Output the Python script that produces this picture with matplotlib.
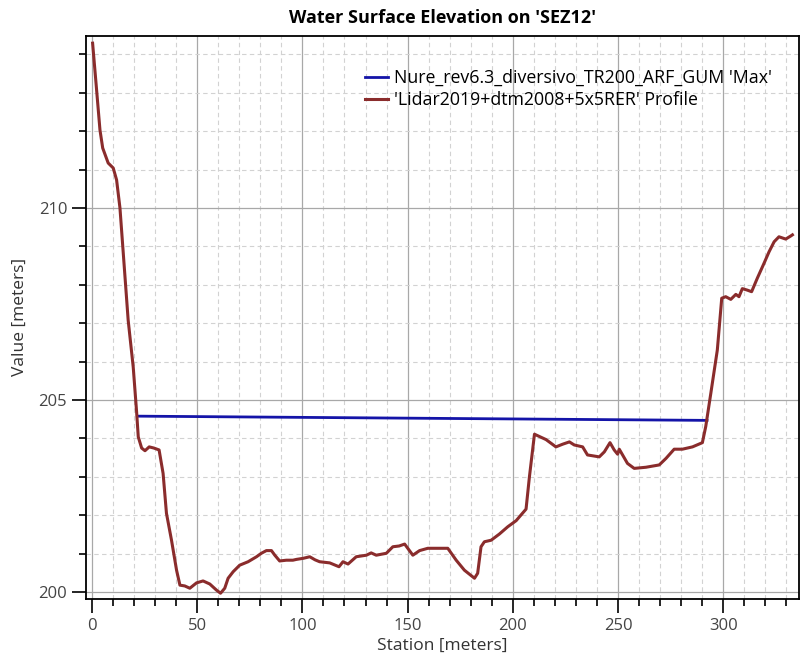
import matplotlib
matplotlib.use('Agg')
import matplotlib.pyplot as plt
from matplotlib.ticker import MultipleLocator

plt.rcParams['font.family'] = ['Open Sans', 'DejaVu Sans']

# Water surface (max)
ws_station = [21.7, 292.3]
ws_value = [204.58, 204.47]

# Ground profile
st = [0.3, 2.0, 3.8, 5.1, 7.7, 10.1, 11.7, 13.3, 17.2, 19.6, 21.2, 22.0, 23.6, 25.2,
      27.2, 29.4, 31.9, 33.8, 35.4, 37.8, 40.2, 41.8, 44.1, 46.5, 49.7, 52.8, 56.0,
      59.2, 61.1, 63.1, 64.7, 67.1, 70.2, 74.2, 78.2, 80.5, 82.9, 85.3, 86.9, 89.2,
      92.4, 95.5, 97.1, 100.5, 103.5, 106.0, 108.2, 113.0, 117.4, 119.3, 121.7,
      125.6, 130.4, 132.7, 135.1, 139.9, 143.0, 146.0, 148.6, 152.5, 155.7, 159.6,
      163.6, 169.1, 173.1, 177.0, 181.8, 183.3, 184.9, 186.5, 189.7, 193.6, 197.6,
      201.6, 206.3, 207.9, 210.3, 215.8, 220.5, 223.7, 226.9, 229.2, 233.2, 235.5,
      241.1, 243.5, 246.2, 248.2, 249.8, 250.6, 254.5, 257.7, 263.3, 269.6, 272.8,
      276.7, 280.6, 285.4, 290.1, 291.7, 294.1, 297.2, 299.3, 301.2, 303.6, 306.0,
      307.5, 309.1, 311.5, 313.5, 316.2, 319.4, 321.8, 324.2, 326.5, 329.7, 332.1,
      332.9]
elev = [214.29, 213.2, 212.03, 211.56, 211.17, 211.04, 210.73, 210.0, 207.08, 205.86,
        204.70, 204.04, 203.75, 203.68, 203.78, 203.75, 203.70, 203.09, 202.05,
        201.35, 200.57, 200.18, 200.16, 200.10, 200.24, 200.29, 200.21, 200.05,
        199.97, 200.10, 200.36, 200.53, 200.70, 200.79, 200.92, 201.01, 201.08,
        201.08, 200.96, 200.81, 200.83, 200.83, 200.85, 200.88, 200.92, 200.84,
        200.79, 200.76, 200.66, 200.79, 200.73, 200.92, 200.96, 201.02, 200.96,
        201.01, 201.18, 201.20, 201.25, 200.96, 201.08, 201.14, 201.14, 201.14,
        200.83, 200.57, 200.36, 200.49, 201.18, 201.31, 201.35, 201.51, 201.70,
        201.86, 202.16, 203.0, 204.11, 203.97, 203.78, 203.85, 203.91, 203.83,
        203.78, 203.57, 203.52, 203.65, 203.89, 203.70, 203.59, 203.72, 203.35,
        203.22, 203.25, 203.31, 203.48, 203.72, 203.72, 203.78, 203.89, 204.31,
        205.17, 206.30, 207.65, 207.69, 207.62, 207.75, 207.69, 207.90, 207.86,
        207.82, 208.17, 208.56, 208.86, 209.12, 209.25, 209.19, 209.27, 209.30]

fig = plt.figure(figsize=(8.02, 6.68), dpi=100)
ax = fig.add_axes([0.1072, 0.1033, 0.889, 0.843])

ax.plot(ws_station, ws_value, color='#1414a8', lw=2,
        label="Nure_rev6.3_diversivo_TR200_ARF_GUM 'Max'", zorder=3)
ax.plot(st, elev, color='#8a2c2c', lw=2.2,
        label="'Lidar2019+dtm2008+5x5RER' Profile", zorder=4)

ax.set_xlim(-2.85, 336)
ax.set_ylim(199.82, 214.48)
ax.xaxis.set_major_locator(MultipleLocator(50))
ax.xaxis.set_minor_locator(MultipleLocator(10))
ax.yaxis.set_major_locator(MultipleLocator(5))
ax.yaxis.set_minor_locator(MultipleLocator(1))

ax.grid(which='major', color='#a8a8a8', lw=0.9, ls='-')
ax.grid(which='minor', color='#d2d2d2', lw=0.8, ls=(0, (4, 3)))
ax.set_axisbelow(True)

ax.tick_params(which='major', length=10, width=1.2, colors='black',
               labelcolor='#444444', labelsize=12)
ax.tick_params(which='minor', length=5, width=1.2, colors='black')
for s in ax.spines.values():
    s.set_color('black')
    s.set_linewidth(1.3)

ax.set_title("Water Surface Elevation on 'SEZ12'", fontsize=13,
             fontweight='bold', pad=9)
ax.set_xlabel('Station [meters]', fontsize=12.5, color='#333333', labelpad=3)
ax.set_ylabel('Value [meters]', fontsize=12.5, color='#333333', labelpad=8)

ax.legend(loc='upper right', bbox_to_anchor=(0.985, 0.97), frameon=False,
          fontsize=12.8, handlelength=1.3, handletextpad=0.35, labelspacing=0.25)

fig.savefig('out.png', dpi=100)
